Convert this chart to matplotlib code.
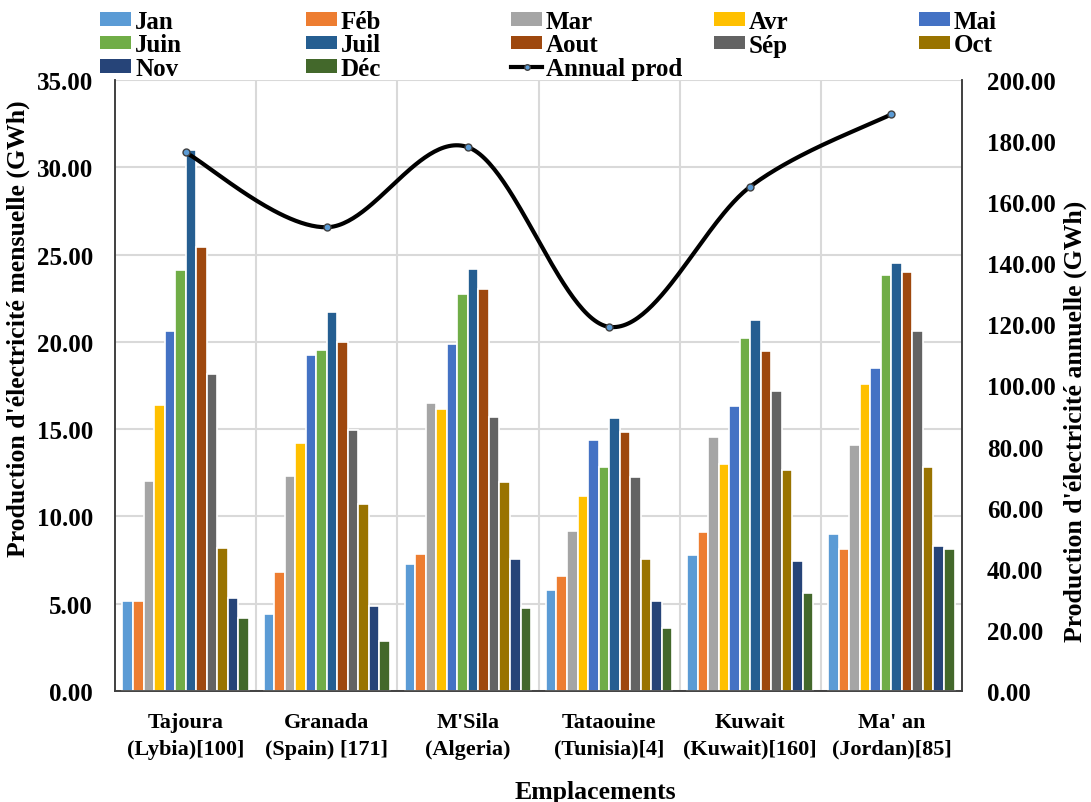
import numpy as np
import matplotlib
matplotlib.use("Agg")
import matplotlib.pyplot as plt
from matplotlib.patches import Patch
from matplotlib.lines import Line2D
from matplotlib.ticker import FormatStrFormatter, MultipleLocator

plt.rcParams["font.family"] = ["Liberation Serif", "DejaVu Serif"]
plt.rcParams["font.weight"] = "bold"

# --- data ---
sites = ["Tajoura\n(Lybia)[100]", "Granada\n(Spain) [171]", "M'Sila\n(Algeria)",
         "Tataouine\n(Tunisia)[4]", "Kuwait\n(Kuwait)[160]", "Ma' an\n(Jordan)[85]"]
months = ["Jan", "Féb", "Mar", "Avr", "Mai", "Juin", "Juil", "Aout", "Sép", "Oct", "Nov", "Déc"]
month_colors = ["#5B9BD5", "#ED7D31", "#A5A5A5", "#FFC000", "#4472C4", "#70AD47",
                "#255E91", "#9E480E", "#636363", "#997300", "#264478", "#43682B"]

tajoura = [5.18, 5.18, 12.05, 16.41, 20.61, 24.14, 30.98, 25.45, 18.14, 8.22, 5.33, 4.16]
granada = [4.41, 6.82, 12.30, 14.22, 19.24, 19.53, 21.70, 20.00, 14.94, 10.74, 4.88, 2.85]
msila = [7.30, 7.83, 16.50, 16.17, 19.86, 22.73, 24.20, 23.03, 15.72, 11.97, 7.58, 4.77]
tataouine = [5.80, 6.60, 9.16, 11.19, 14.39, 12.81, 15.61, 14.86, 12.27, 7.58, 5.18, 3.61]
kuwait = [7.77, 9.08, 14.53, 12.99, 16.33, 20.20, 21.25, 19.47, 17.19, 12.68, 7.44, 5.64]
maan = [9.02, 8.14, 14.10, 17.58, 18.50, 23.83, 24.53, 23.98, 20.61, 12.81, 8.30, 8.14]

annual_prod = [176.3, 151.8, 178.0, 119.2, 165.1, 188.8]

monthly = np.array([tajoura, granada, msila, tataouine, kuwait, maan])


def smooth_curve(xs, ys, n=60):
    """Excel-like smoothed line: cubic Bezier with Catmull-Rom control points."""
    pts = np.column_stack([xs, ys]).astype(float)
    out = []
    for i in range(len(pts) - 1):
        p0 = pts[i - 1] if i > 0 else pts[i]
        p1, p2 = pts[i], pts[i + 1]
        p3 = pts[i + 2] if i + 2 < len(pts) else pts[i + 1]
        c1 = p1 + (p2 - p0) / 6.0
        c2 = p2 - (p3 - p1) / 6.0
        t = np.linspace(0, 1, n)[:, None]
        seg = ((1 - t) ** 3) * p1 + 3 * ((1 - t) ** 2) * t * c1 + 3 * (1 - t) * t ** 2 * c2 + t ** 3 * p2
        out.append(seg if i == 0 else seg[1:])
    out = np.vstack(out)
    return out[:, 0], out[:, 1]


W, H = 1091, 803
fig = plt.figure(figsize=(W / 100, H / 100), dpi=100)
ax = fig.add_axes([115 / W, 1 - 692 / H, 847 / W, 611 / H])
ax2 = ax.twinx()

x = np.arange(len(sites))
step = 0.0745
for m in range(len(months)):
    offs = (m - (len(months) - 1) / 2) * step
    ax.bar(x + offs, monthly[:, m], width=step, color=month_colors[m],
           edgecolor="white", linewidth=1.2, zorder=3)

ax.set_xlim(-0.5, len(sites) - 0.5)
ax.set_ylim(0, 35)
ax.yaxis.set_major_locator(MultipleLocator(5))
ax.yaxis.set_major_formatter(FormatStrFormatter("%.2f"))
ax.grid(axis="y", color="#D9D9D9", linewidth=1.5, zorder=0)
for b in np.arange(0.5, len(sites) - 0.5, 1.0):
    ax.axvline(b, color="#D9D9D9", linewidth=1.5, zorder=0)
ax.set_axisbelow(True)
ax.set_xticks(x)
ax.set_xticklabels(sites, fontsize=16, fontweight="bold", linespacing=1.45)
ax.tick_params(axis="x", length=0, pad=15)
ax.tick_params(axis="y", length=0, labelsize=18, pad=16)

ax2.set_ylim(0, 200)
ax2.yaxis.set_major_locator(MultipleLocator(20))
ax2.yaxis.set_major_formatter(FormatStrFormatter("%.2f"))
ax2.tick_params(axis="y", length=0, labelsize=18, pad=18)

sx, sy = smooth_curve(x, annual_prod)
ax2.plot(sx, sy, color="black", linewidth=3, zorder=5, clip_on=False)
ax2.plot(x, annual_prod, linestyle="none", marker="o", markersize=5,
         markerfacecolor="#5B9BD5", markeredgecolor="#404040", markeredgewidth=1, zorder=6, clip_on=False)

for a in (ax, ax2):
    a.spines["top"].set_visible(False)
    for s in ("left", "right", "bottom"):
        a.spines[s].set_color("#404040")
        a.spines[s].set_linewidth(1.2)

# axis titles placed as in the reference
fig.text(18 / W, 1 - 329 / H, "Production d'électricité mensuelle (GWh)", rotation=90,
         ha="center", va="center", fontsize=18.5, fontweight="bold")
fig.text(1075 / W, 1 - 421 / H, "Production d'électricité annuelle (GWh)", rotation=90,
         ha="center", va="center", fontsize=18.5, fontweight="bold")
fig.text(595 / W, 1 - 793 / H, "Emplacements", ha="center", va="center",
         fontsize=18.5, fontweight="bold")

# legend: five equally spaced columns, rows Jan..Mai / Juin..Oct / Nov, Déc, Annual prod
handles = {mname: Patch(facecolor=c, edgecolor="none") for mname, c in zip(months, month_colors)}
handles["Annual prod"] = Line2D([], [], color="black", linewidth=3, marker="o", markersize=4,
                                markerfacecolor="#5B9BD5", markeredgecolor="#404040")
columns = [["Jan", "Juin", "Nov"], ["Féb", "Juil", "Déc"], ["Mar", "Aout", "Annual prod"],
           ["Avr", "Sép"], ["Mai", "Oct"]]
col_x = [100, 306, 511, 714, 919]
for cx, labels in zip(col_x, columns):
    fig.legend([handles[k] for k in labels], labels, loc="upper left",
               bbox_to_anchor=(cx / W, 1 - 11 / H), frameon=False,
               prop={"size": 18, "weight": "bold"}, handlelength=1.25, handleheight=0.45,
               handletextpad=0.15, labelspacing=0.02, borderpad=0, borderaxespad=0)

fig.savefig("out.png", dpi=100)
